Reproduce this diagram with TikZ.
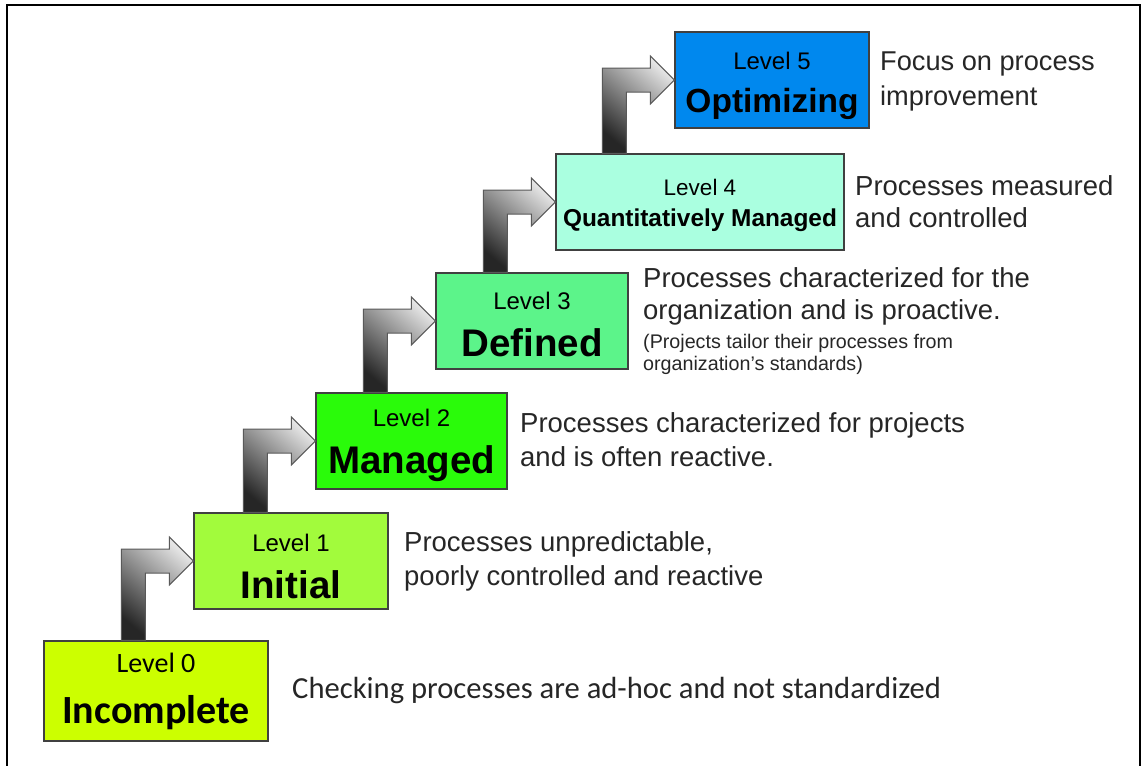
\documentclass[tikz,border=0pt]{standalone}
\usepackage{fontspec}
\setmainfont{Liberation Sans}
\newfontfamily\calibfont{Carlito}
\usetikzlibrary{calc}

\definecolor{lvlzero}{HTML}{CCFF00}
\definecolor{lvlone}{HTML}{A2FB3C}
\definecolor{lvltwo}{HTML}{2AFB0A}
\definecolor{lvlthree}{HTML}{5CF48A}
\definecolor{lvlfour}{HTML}{AAFFE0}
\definecolor{lvlfive}{HTML}{0088EE}

\begin{document}
\begin{tikzpicture}[x=1pt,y=-1pt,
  stage/.style={draw=black!75,line width=1.2pt,minimum height=96pt,inner sep=0pt,align=center,
    font=\fontsize{38.5}{47}\selectfont\bfseries},
  desc/.style={anchor=west,align=left,inner sep=0pt,text=black!85,font=\fontsize{27.5}{34}\selectfont},
  upstep/.style={draw=black!65,line width=1pt,top color=black!10,bottom color=black!85,shading angle=-40}]

\useasboundingbox (0,0) rectangle (1141,766);

\draw[line width=2pt] (7,766) -- (7,5) -- (1140,5) -- (1140,766);

% the six levels
\node[stage,fill=lvlzero,minimum width=224pt,minimum height=100pt,font=\calibfont\fontsize{40}{51}\selectfont\bfseries]
  (lvl0) at (156,691) {{\mdseries\fontsize{28}{30}\selectfont Level 0}\\Incomplete};
\node[stage,fill=lvlone,minimum width=194pt] (lvl1) at (291,561)
  {{\mdseries\fontsize{24}{28}\selectfont\rule{0pt}{28pt}Level 1}\\Initial};
\node[stage,fill=lvltwo,minimum width=191pt] (lvl2) at (411.5,441)
  {{\mdseries\fontsize{24}{28}\selectfont\rule{0pt}{26pt}Level 2}\\Managed};
\node[stage,fill=lvlthree,minimum width=192pt] (lvl3) at (532,321)
  {{\mdseries\fontsize{24}{28}\selectfont\rule{0pt}{25pt}Level 3}\\Defined};
\node[stage,fill=lvlfour,minimum width=288pt,font=\fontsize{24.4}{31}\selectfont\bfseries] (lvl4) at (700,202)
  {{\mdseries\fontsize{22.5}{26}\selectfont\rule{0pt}{23pt}Level 4}\\Quantitatively Managed};
\node[stage,fill=lvlfive,minimum width=194pt,font=\fontsize{33.5}{43}\selectfont\bfseries] (lvl5) at (772,80)
  {{\mdseries\fontsize{24}{28}\selectfont\rule{0pt}{30pt}Level 5}\\Optimizing};

% steps between the levels
\foreach \a/\b in {lvl0/lvl1,lvl1/lvl2,lvl2/lvl3,lvl3/lvl4,lvl4/lvl5}
  \draw[upstep] let \p1=(\b.west), \p2=(\a.north) in
    (\x1-72pt,\y2) -- (\x1-72pt,\y1+12pt) -- (\x1-24pt,\y1+12pt) -- (\x1-24pt,\y1+24pt)
    -- (\x1,\y1) -- (\x1-24pt,\y1-24pt) -- (\x1-24pt,\y1-12pt) -- (\x1-48pt,\y1-12pt)
    -- (\x1-48pt,\y2) -- cycle;

% what each level means
\node[desc,font=\calibfont\fontsize{30.6}{36}\selectfont] (d0) at (292,690)
  {Checking processes are ad-hoc and not standardized};
\node[desc] (d1) at (404,561) {Processes unpredictable,\\poorly controlled and reactive};
\node[desc] (d2) at (520,440) {Processes characterized for projects\\and is often reactive.};
\node[desc,font=\fontsize{27.5}{32}\selectfont] (d3) at (643,321)
  {Processes characterized for the\\organization and is proactive.\\[-3pt]
   {\fontsize{19.7}{22}\selectfont (Projects tailor their processes from}\\[-10pt]
   {\fontsize{19.7}{22}\selectfont organization’s standards)}};
\node[desc,font=\fontsize{27.5}{32}\selectfont] (d4) at (855,202) {Processes measured\\and controlled};
\node[desc,font=\fontsize{27.2}{35}\selectfont] (d5) at (880,81) {Focus on process\\improvement};

\end{tikzpicture}
\end{document}
